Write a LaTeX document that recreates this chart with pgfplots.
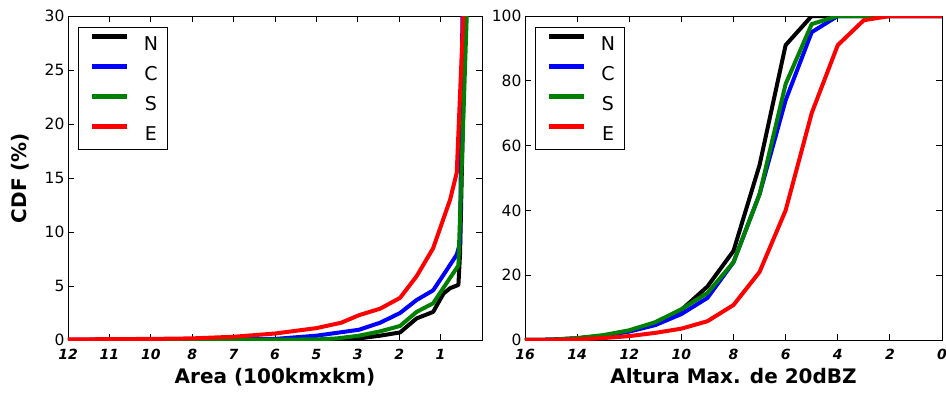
\documentclass[border=0pt]{standalone}
\usepackage{fontspec}
\setmainfont{DejaVu Sans}
\usepackage{pgfplots}
\pgfplotsset{compat=1.18}
\pgfplotsset{mystyle/.style={
  scale only axis, height=324pt,
  tick align=inside, major tick length=6pt,
  axis line style={line width=0.8pt},
  every tick/.style={black, line width=0.8pt},
  /pgf/number format/assume math mode=true,
  yticklabel style={font=\fontsize{15.5}{17}\selectfont},
  xticklabel style={font=\fontsize{14}{16}\selectfont\bfseries\itshape, yshift=-6pt},
  label style={font=\fontsize{20}{23}\selectfont\bfseries},
  xlabel style={at={(axis description cs:0.5,0)}, anchor=base, yshift=-43pt},
  legend style={at={(0.024,0.966)}, anchor=north west, draw=black, line width=0.8pt,
    font=\fontsize{19}{22}\selectfont, row sep=6pt, inner xsep=4pt, inner ysep=4pt,
    nodes={text height=13.9pt, text depth=0pt, inner sep=5pt},
    /tikz/every odd column/.style={column sep=9pt}},
  legend image code/.code={\path (0pt,0pt); \draw[#1, line width=5pt] (8pt,7pt) -- (43pt,7pt);},
  every axis plot/.append style={line width=4pt, line join=round},
}}
\begin{document}
\begin{tikzpicture}
\path[use as bounding box] (0pt,0pt) rectangle (946pt,392pt);
\begin{axis}[mystyle, at={(68pt,52pt)}, anchor=south west, width=414pt,
  xmin=0, xmax=10, ymin=0, ymax=30,
  xtick={0,1,2,3,4,5,6,7,8,9},
  xticklabels={12,11,10,8,7,6,5,3,2,1},
  ytick={0,5,10,15,20,25,30},
  xlabel={Area (100kmxkm)}, ylabel={CDF (\%)},
  ylabel style={at={(axis description cs:-0.116,0.5)}, anchor=center},
]
\addplot[black] coordinates {(0,0) (6.5,0.02) (7.03,0.15) (7.54,0.4) (8.02,0.7) (8.42,2.0) (8.82,2.6) (9.07,4.3) (9.23,4.8) (9.43,5.1) (9.47,8) (9.6,31)};
\addplot[blue] coordinates {(0,0.02) (3,0.04) (5,0.1) (6,0.4) (7.03,0.95) (7.54,1.6) (8.02,2.5) (8.42,3.7) (8.82,4.6) (9.15,6.5) (9.39,7.9) (9.47,9) (9.53,31)};
\addplot[green!50!black] coordinates {(0,0) (6,0.05) (6.5,0.15) (7.03,0.4) (7.54,0.8) (8.02,1.3) (8.42,2.6) (8.82,3.4) (9.15,5.3) (9.43,6.9) (9.64,31)};
\addplot[red] coordinates {(0,0.05) (1,0.08) (2,0.1) (3,0.15) (4,0.3) (5,0.6) (6,1.1) (6.6,1.6) (7.03,2.3) (7.54,2.9) (8.02,3.9) (8.42,5.9) (8.82,8.5) (9.23,13) (9.39,15.5) (9.56,31)};
\legend{N,C,S,E}
\end{axis}
\begin{axis}[mystyle, at={(525pt,52pt)}, anchor=south west, width=417pt,
  x dir=reverse, xmin=0, xmax=16, ymin=0, ymax=100,
  xtick={0,2,...,16}, ytick={0,20,...,100},
  xlabel={Altura Max. de 20dBZ},
]
\addplot[black] coordinates {(16,0) (15,0.1) (14,0.5) (13,1.3) (12,2.8) (11,5.2) (10,9.3) (9,16.5) (8,27.5) (7,54) (6,91) (5,100) (4,100) (3,100) (2,100) (1,100) (0,100)};
\addplot[blue] coordinates {(16,0) (15,0.1) (14,0.5) (13,1.3) (12,2.6) (11,4.6) (10,8) (9,13) (8,24) (7,45) (6,74) (5,95) (4,100) (3,100) (2,100) (1,100) (0,100)};
\addplot[green!50!black] coordinates {(16,0) (15,0.1) (14,0.6) (13,1.5) (12,3) (11,5.5) (10,9.5) (9,14.5) (8,24) (7,45) (6,79) (5,97.5) (4,100) (3,100) (2,100) (1,100) (0,100)};
\addplot[red] coordinates {(16,0) (15,0.05) (14,0.2) (13,0.6) (12,1.2) (11,2.2) (10,3.5) (9,5.8) (8,10.8) (7,21) (6,40) (5,70) (4,91) (3,98.7) (2,100) (1,100) (0,100)};
\legend{N,C,S,E}
\end{axis}
\end{tikzpicture}
\end{document}
